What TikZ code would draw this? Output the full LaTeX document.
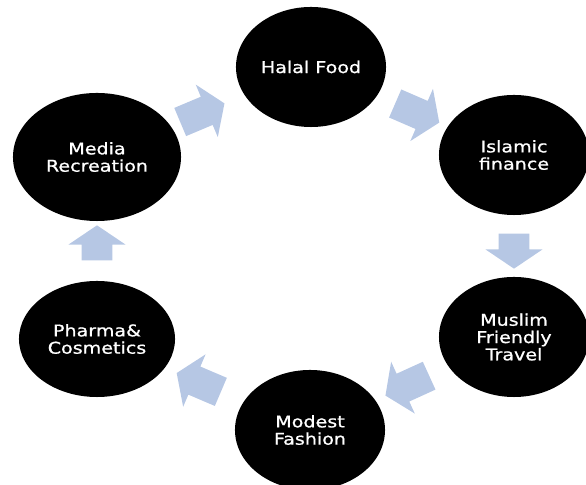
\documentclass[tikz,border=0pt]{standalone}
\usepackage{fontspec}
\newfontfamily\bubblefont[FakeStretch=1.18,FakeBold=0.9]{DejaVu Sans}
\usetikzlibrary{shapes.geometric,shapes.arrows}
\definecolor{arrowblue}{RGB}{182,199,228}

\begin{document}
\begin{tikzpicture}[
  x=0.025cm,y=0.025cm,
  sector/.style={ellipse,fill=black,text=white,align=center,inner sep=0pt,
    minimum width=3.75cm,minimum height=3cm,
    font=\bubblefont\fontsize{11.5}{12.3}\selectfont},
  flow/.style={single arrow,fill=arrowblue,inner xsep=0pt,inner ysep=0.375cm,
    single arrow head extend=0.33cm,single arrow tip angle=112,
    minimum height=#1,sloped,allow upside down},
  flow/.default=1.2cm
]
\useasboundingbox (0,0) rectangle (586,485);

\node[sector] (halal) at (311,418) {Halal Food};
\node[sector] (islamic) at (514,330) {Islamic\\finance};
\node[sector] (travel) at (514,148) {Muslim\\Friendly\\Travel};
\node[sector] (modest) at (310,55) {Modest\\Fashion};
\node[sector,minimum width=3.9cm,minimum height=2.9cm] (pharma) at (97,146) {Pharma\&\\Cosmetics};
\node[sector,minimum width=4.2cm,minimum height=3.2cm] (media) at (97,328) {Media\\Recreation};

\path (media.center) -- node[flow,pos=0.47] {} (halal.center);
\path (halal.center) -- node[flow] {} (islamic.center);
\path (islamic.center) -- node[flow=0.875cm] {} (travel.center);
\path (travel.center) -- node[flow] {} (modest.center);
\path (modest.center) -- node[flow] {} (pharma.center);
\path (pharma.center) -- node[flow=0.875cm] {} (media.center);

\end{tikzpicture}
\end{document}
